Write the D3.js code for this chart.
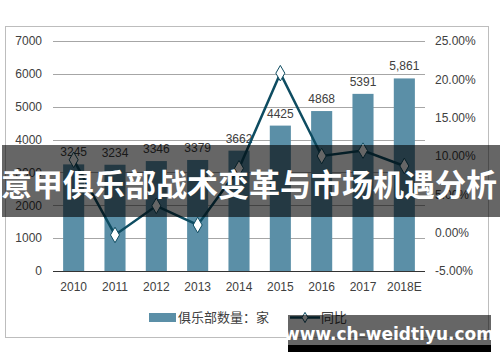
<!DOCTYPE html>
<meta charset="utf-8">
<html>
<head>
<style>
  body { margin: 0; background: #fff; }
  svg { display: block; font-family: Arial, "Liberation Sans", "Noto Sans CJK SC", sans-serif; }
</style>
</head>
<body>
<script src="https://d3js.org/d3.v7.min.js"></script>
<svg width="500" height="362"></svg>
<script>
  // data
  var years = ["2010", "2011", "2012", "2013", "2014", "2015", "2016", "2017", "2018E"];
  var clubs = [3245, 3234, 3346, 3379, 3662, 4425, 4868, 5391, 5861];
  var clubLabels = ["3245", "3234", "3346", "3379", "3662", "4425", "4868", "5391", "5,861"];
  var growth = [9.5, -0.3, 3.5, 1.0, 8.4, 20.8, 10.0, 10.7, 8.7];
  var leftTicks = [0, 1000, 2000, 3000, 4000, 5000, 6000, 7000];
  var rightTicks = [-5, 0, 5, 10, 15, 20, 25];

  var barColor = "#5b8fa7", lineColor = "#0e4c61", textColor = "#404040";

  var svg = d3.select("svg");

  // outer frame
  svg.append("rect")
    .attr("x", 5.5).attr("y", 26.5).attr("width", 483).attr("height", 311)
    .attr("fill", "#fff").attr("stroke", "#bdbdbd");

  var x = d3.scaleBand().domain(years).range([53, 425]).paddingInner(0.49).paddingOuter(0.245);
  var y = d3.scaleLinear().domain([0, 7000]).range([271, 41]);
  var y2 = d3.scaleLinear().domain([-5, 25]).range([271, 41]);

  // gridlines
  svg.append("g").selectAll("line")
    .data(leftTicks.slice(1))
    .enter().append("line")
    .attr("x1", 53).attr("x2", 425)
    .attr("y1", function (d) { return Math.round(y(d)) + 0.5; })
    .attr("y2", function (d) { return Math.round(y(d)) + 0.5; })
    .attr("stroke", "#a6a6a6");

  // left axis
  var leftAxis = svg.append("g")
    .attr("transform", "translate(53,0)")
    .call(d3.axisLeft(y).tickValues(leftTicks).tickSize(0).tickPadding(11).tickFormat(d3.format("d")));
  leftAxis.select(".domain").remove();
  leftAxis.selectAll("text").attr("fill", textColor).attr("font-size", "12px");

  // right axis
  var rightAxis = svg.append("g")
    .attr("transform", "translate(425,0)")
    .call(d3.axisRight(y2).tickValues(rightTicks).tickSize(0).tickPadding(10)
      .tickFormat(function (d) { return d.toFixed(2) + "%"; }));
  rightAxis.select(".domain").remove();
  rightAxis.selectAll("text").attr("fill", textColor).attr("font-size", "12px");

  // bars
  svg.append("g").selectAll("rect")
    .data(clubs)
    .enter().append("rect")
    .attr("x", function (d, i) { return x(years[i]); })
    .attr("y", function (d) { return y(d); })
    .attr("width", x.bandwidth())
    .attr("height", function (d) { return y(0) - y(d); })
    .attr("fill", barColor);

  // baseline
  svg.append("line")
    .attr("x1", 53).attr("x2", 425).attr("y1", 271.5).attr("y2", 271.5)
    .attr("stroke", "#333");

  // x axis labels
  var bottomAxis = svg.append("g")
    .attr("transform", "translate(0,271)")
    .call(d3.axisBottom(x).tickSize(0).tickPadding(11));
  bottomAxis.select(".domain").remove();
  bottomAxis.selectAll("text").attr("fill", textColor).attr("font-size", "12px");

  // bar value labels
  svg.append("g").selectAll("text")
    .data(clubs)
    .enter().append("text")
    .attr("x", function (d, i) { return x(years[i]) + x.bandwidth() / 2; })
    .attr("y", function (d) { return y(d) - 8; })
    .attr("text-anchor", "middle")
    .attr("font-size", "12px")
    .attr("fill", textColor)
    .text(function (d, i) { return clubLabels[i]; });

  // growth line
  var line = d3.line()
    .x(function (d, i) { return x(years[i]) + x.bandwidth() / 2; })
    .y(function (d) { return y2(d); });
  svg.append("path")
    .datum(growth)
    .attr("d", line)
    .attr("fill", "none")
    .attr("stroke", lineColor)
    .attr("stroke-width", 2.5);

  var diamond = d3.symbol().type(d3.symbolDiamond).size(70);
  svg.append("g").selectAll("path")
    .data(growth)
    .enter().append("path")
    .attr("d", diamond)
    .attr("transform", function (d, i) {
      return "translate(" + (x(years[i]) + x.bandwidth() / 2) + "," + y2(d) + ")";
    })
    .attr("fill", "#fff")
    .attr("stroke", lineColor)
    .attr("stroke-width", 1);

  // legend
  var legend = svg.append("g").attr("font-size", "13px").attr("fill", textColor);
  legend.append("rect").attr("x", 149).attr("y", 313).attr("width", 27).attr("height", 9).attr("fill", barColor);
  legend.append("text").attr("x", 178).attr("y", 322).attr("fill", textColor).text("俱乐部数量：家");
  legend.append("line").attr("x1", 290).attr("x2", 320).attr("y1", 317.5).attr("y2", 317.5)
    .attr("stroke", lineColor).attr("stroke-width", 2.5);
  legend.append("path").attr("d", d3.symbol().type(d3.symbolDiamond).size(30))
    .attr("transform", "translate(305,317.5)")
    .attr("fill", "#fff").attr("stroke", lineColor);
  legend.append("text").attr("x", 321).attr("y", 322).attr("fill", textColor).text("同比");

  // title banner over the chart
  svg.append("rect")
    .attr("x", 2).attr("y", 145).attr("width", 498).attr("height", 72)
    .attr("fill", "rgba(0,0,0,0.6)");
  svg.append("text")
    .attr("x", 249).attr("y", 196)
    .attr("text-anchor", "middle")
    .attr("font-family", "'Noto Sans CJK SC', sans-serif")
    .attr("font-weight", "bold")
    .attr("font-size", "31px")
    .attr("fill", "#fff")
    .text("意甲俱乐部战术变革与市场机遇分析");

  // watermark
  svg.append("rect")
    .attr("x", 288).attr("y", 315).attr("width", 203).attr("height", 30)
    .attr("fill", "rgba(0,0,0,0.6)");
  svg.append("rect")
    .attr("x", 288).attr("y", 345).attr("width", 203).attr("height", 7)
    .attr("fill", "#000");
  svg.append("text")
    .attr("x", 389).attr("y", 340)
    .attr("text-anchor", "middle")
    .attr("font-family", "'DejaVu Sans', sans-serif")
    .attr("font-weight", "bold")
    .attr("font-size", "17px")
    .attr("fill", "#fff")
    .text("www.ch-weidtiyu.com");
</script>
</body>
</html>
